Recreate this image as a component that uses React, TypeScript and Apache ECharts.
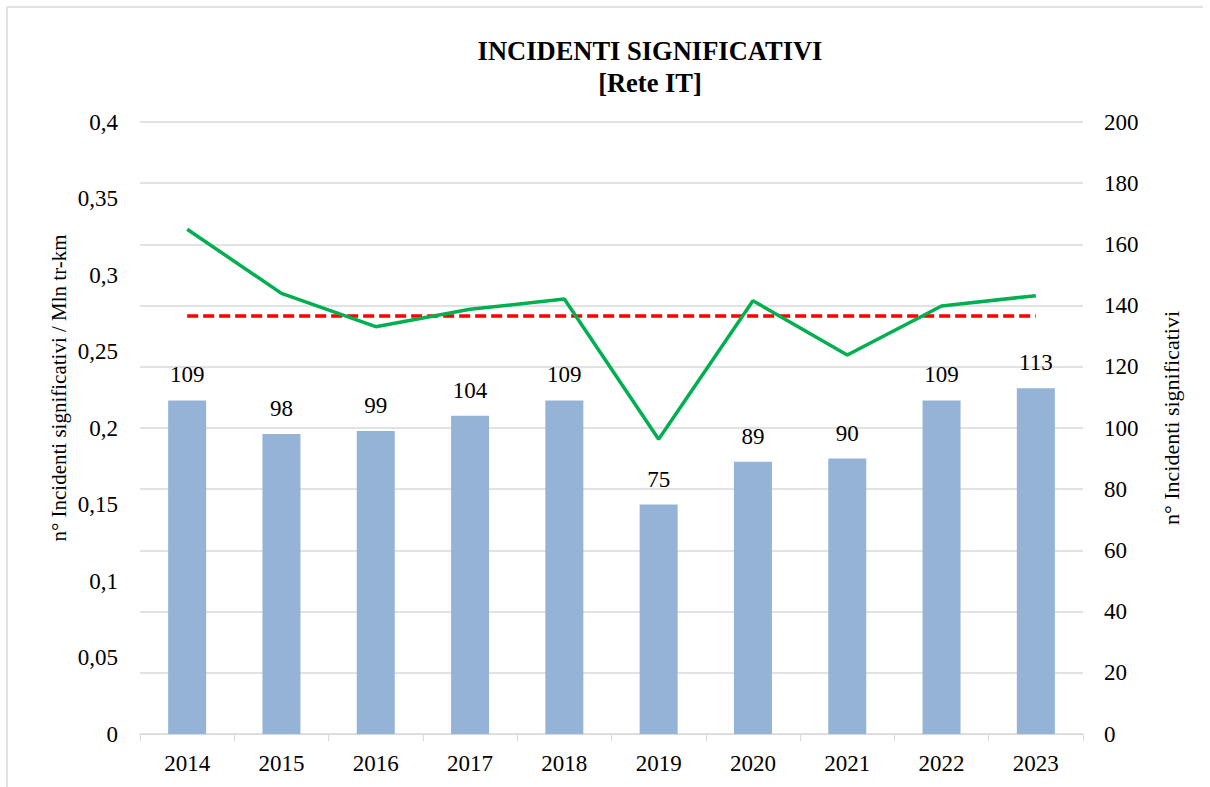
import React, { useEffect, useRef } from "react";
import * as echarts from "echarts";

const years = ["2014", "2015", "2016", "2017", "2018", "2019", "2020", "2021", "2022", "2023"];
const incidents = [109, 98, 99, 104, 109, 75, 89, 90, 109, 113];
const ratePerMlnTrKm = [0.3299, 0.288, 0.2662, 0.2776, 0.2843, 0.1926, 0.2832, 0.2477, 0.2797, 0.2865];
const referenceRate = [0.2732, 0.2732, 0.2732, 0.2732, 0.2732, 0.2732, 0.2732, 0.2732, 0.2732, 0.2732];

const FONT = "Liberation Serif";

export default function App() {
  const ref = useRef<HTMLDivElement>(null);
  useEffect(() => {
    if (!ref.current) return;
    const chart = echarts.init(ref.current, undefined, { renderer: "svg" });
    const fmtLeft = (v: number) => String(+v.toFixed(2)).replace(".", ",");
    chart.setOption({
      animation: false,
      backgroundColor: "#ffffff",
      textStyle: { fontFamily: FONT, color: "#000" },
      title: {
        text: "INCIDENTI SIGNIFICATIVI\n[Rete IT]",
        left: 645,
        top: 30,
        textAlign: "center",
        textStyle: { fontFamily: FONT, fontSize: 26.5, fontWeight: "bold", color: "#000", lineHeight: 32 },
      },
      grid: { left: 140, right: 127, top: 122, bottom: 53 },
      xAxis: {
        type: "category",
        data: years,
        axisLine: { lineStyle: { color: "#d9d9d9", width: 1 } },
        axisTick: { show: true, length: 7, lineStyle: { color: "#d9d9d9" } },
        axisLabel: { fontFamily: FONT, fontSize: 23, color: "#000", margin: 18 },
      },
      yAxis: [
        {
          type: "value",
          min: 0,
          max: 0.4,
          interval: 0.05,
          position: "left",
          axisLine: { show: false },
          axisTick: { show: false },
          splitLine: { show: false },
          axisLabel: { fontFamily: FONT, fontSize: 23, color: "#000", margin: 22, formatter: fmtLeft },
        },
        {
          type: "value",
          min: 0,
          max: 200,
          interval: 20,
          position: "right",
          axisLine: { show: false },
          axisTick: { show: false },
          splitLine: { show: true, lineStyle: { color: "#d9d9d9", width: 1.5 } },
          axisLabel: { fontFamily: FONT, fontSize: 23, color: "#000", margin: 21 },
        },
      ],
      series: [
        {
          name: "n° Incidenti significativi",
          type: "bar",
          yAxisIndex: 1,
          data: incidents,
          barWidth: 38,
          itemStyle: { color: "#95b3d7" },
          label: {
            show: true,
            position: "top",
            distance: 14,
            fontFamily: FONT,
            fontSize: 23,
            color: "#000",
          },
          z: 1,
        },
        {
          name: "n° Incidenti significativi / Mln tr-km",
          type: "line",
          yAxisIndex: 0,
          data: ratePerMlnTrKm,
          showSymbol: false,
          symbol: "none",
          lineStyle: { color: "#00b050", width: 3.5 },
          z: 3,
        },
        {
          name: "Riferimento",
          type: "line",
          yAxisIndex: 0,
          data: referenceRate,
          showSymbol: false,
          symbol: "none",
          lineStyle: { color: "#ff0000", width: 3.5, type: [11, 5] },
          z: 2,
        },
      ],
      graphic: [
        { type: "line", shape: { x1: 7, y1: 7, x2: 1203, y2: 7 }, style: { stroke: "#d9d9d9", lineWidth: 1.5 } },
        { type: "line", shape: { x1: 7, y1: 7, x2: 7, y2: 787 }, style: { stroke: "#d9d9d9", lineWidth: 1.5 } },
        {
          type: "text",
          x: 59,
          y: 388,
          rotation: Math.PI / 2,
          style: {
            text: "n° Incidenti significativi / Mln tr-km",
            fontFamily: FONT,
            fontSize: 21,
            fill: "#000",
            align: "center",
            verticalAlign: "middle",
          },
        },
        {
          type: "text",
          x: 1171,
          y: 418,
          rotation: Math.PI / 2,
          style: {
            text: "n° Incidenti significativi",
            fontFamily: FONT,
            fontSize: 22,
            fill: "#000",
            align: "center",
            verticalAlign: "middle",
          },
        },
      ],
    });
    return () => chart.dispose();
  }, []);
  return (
    <div
      ref={ref}
      style={{ position: "fixed", left: 0, top: 0, width: 1210, height: 787, background: "#fff" }}
    />
  );
}
